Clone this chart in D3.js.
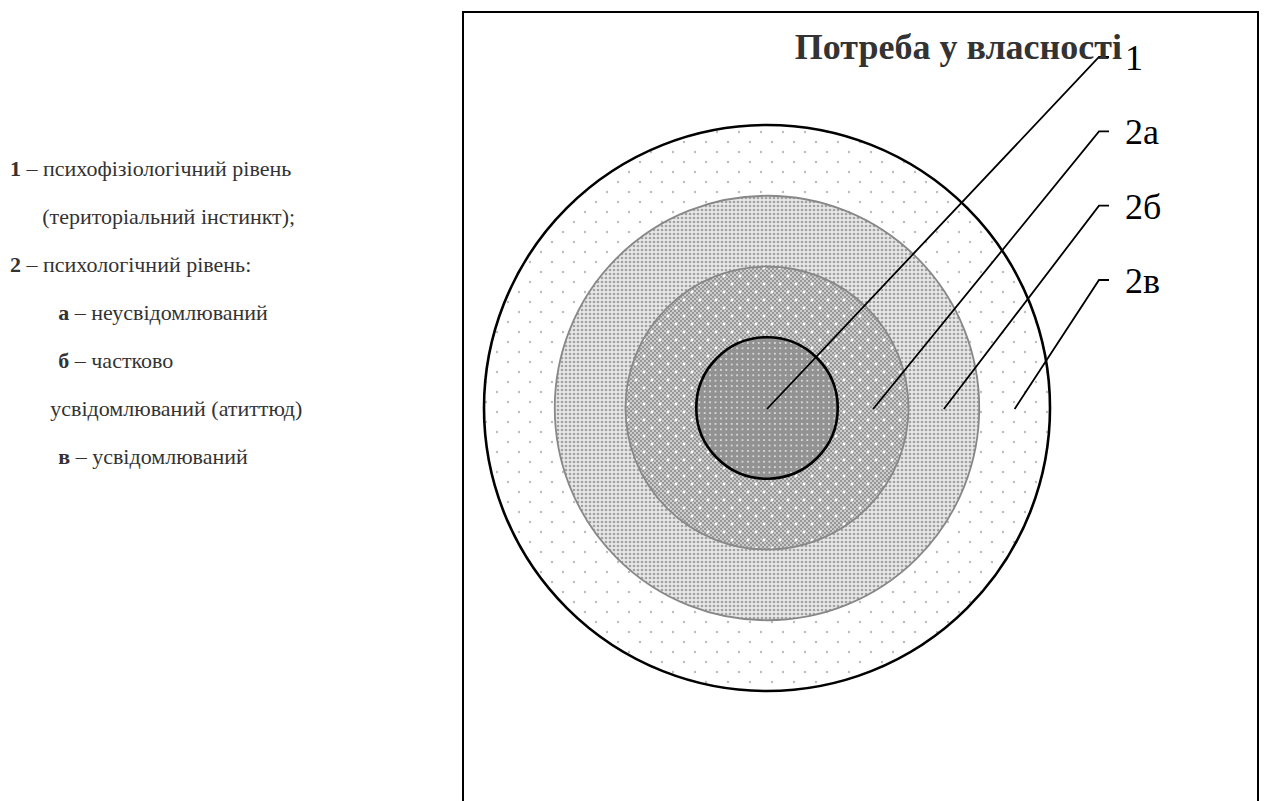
<!DOCTYPE html>
<html>
<head>
<meta charset="utf-8">
<title>Потреба у власності</title>
<script src="https://cdn.jsdelivr.net/npm/d3@7"></script>
<style>
body { margin: 0; background: #fff; }
text { font-family: "Liberation Serif", "Times New Roman", serif; }
</style>
</head>
<body>
<script type="text/javascript">

// levels from centre outwards
var levels = ["1", "2а", "2б", "2в"];
var outerRadius = [1, 2, 3, 4];      // ring outer edge, in level units
var leaderAt = [0, 1.5, 2.5, 3.5];   // where each leader line starts, in level units
var title = "Потреба у власності";

// legend rows: bold key, rest of text, indent step
var legendKey = ["1", "", "2", "а", "б", "", "в"];
var legendText = [" – психофізіологічний рівень", "(територіальний інстинкт);",
  " – психологічний рівень:", " – неусвідомлюваний", " – частково",
  "усвідомлюваний (атиттюд)", " – усвідомлюваний"];
var legendIndent = [0, 1.4, 0, 2.1, 2.1, 1.75, 2.1];

var width = 1264, height = 801;
var cx = 767, cy = 408;

var svg = d3.select("body").append("svg")
  .attr("width", width)
  .attr("height", height);

var r = d3.scaleLinear().domain([0, 4]).range([0, 283]);

// patterns
var defs = svg.append("defs");

var p4 = defs.append("pattern").attr("id", "sparse")
  .attr("patternUnits", "userSpaceOnUse").attr("width", 22).attr("height", 20);
p4.append("rect").attr("width", 22).attr("height", 20).attr("fill", "#fff");
p4.append("circle").attr("cx", 2).attr("cy", 2).attr("r", 1.2).attr("fill", "#bdbdbd");
p4.append("circle").attr("cx", 13).attr("cy", 12).attr("r", 1.2).attr("fill", "#bdbdbd");

var p3 = defs.append("pattern").attr("id", "dense")
  .attr("patternUnits", "userSpaceOnUse").attr("width", 4).attr("height", 4);
p3.append("rect").attr("width", 4).attr("height", 4).attr("fill", "#e8e8e8");
p3.append("circle").attr("cx", 2).attr("cy", 2).attr("r", 1.35).attr("fill", "#a2a2a2");

var p2 = defs.append("pattern").attr("id", "checker")
  .attr("patternUnits", "userSpaceOnUse").attr("width", 4).attr("height", 4);
p2.append("rect").attr("width", 4).attr("height", 4).attr("fill", "#cccccc");
p2.append("rect").attr("width", 2).attr("height", 2).attr("fill", "#989898");
p2.append("rect").attr("x", 2).attr("y", 2).attr("width", 2).attr("height", 2).attr("fill", "#989898");

var p2b = defs.append("pattern").attr("id", "whitedots")
  .attr("patternUnits", "userSpaceOnUse").attr("width", 16).attr("height", 16);
p2b.append("circle").attr("cx", 4).attr("cy", 4).attr("r", 1.4).attr("fill", "#fff");
p2b.append("circle").attr("cx", 12).attr("cy", 12).attr("r", 1.4).attr("fill", "#fff");

var p1 = defs.append("pattern").attr("id", "core")
  .attr("patternUnits", "userSpaceOnUse").attr("width", 5.4).attr("height", 5.4);
p1.append("rect").attr("width", 5.4).attr("height", 5.4).attr("fill", "#929292");
p1.append("circle").attr("cx", 2.7).attr("cy", 2.7).attr("r", 1).attr("fill", "#e8e8e8");

var fills = ["url(#core)", "url(#checker)", "url(#dense)", "url(#sparse)"];
var strokes = ["#000", "#888", "#888", "#000"];
var strokeW = [2.6, 1.8, 1.8, 2.6];

// frame
svg.append("rect")
  .attr("x", 463).attr("y", 12)
  .attr("width", 795).attr("height", 820)
  .attr("fill", "none").attr("stroke", "#000").attr("stroke-width", 2);

// rings, drawn outermost first
var order = d3.range(levels.length).reverse();
var gRing = svg.append("g");
order.forEach(function(i) {
  gRing.append("circle")
    .attr("cx", cx).attr("cy", cy)
    .attr("r", r(outerRadius[i]))
    .attr("fill", fills[i])
    .attr("stroke", strokes[i])
    .attr("stroke-width", strokeW[i]);
  if (i == 1) {
    gRing.append("circle")
      .attr("cx", cx).attr("cy", cy)
      .attr("r", r(outerRadius[i]) - 1)
      .attr("fill", "url(#whitedots)");
  }
});

// leader lines and labels
var labelY = d3.scalePoint().domain(levels).range([70, 293]);
var tickX0 = 1099, tickX1 = 1109, labelX = 1125;

var gLine = svg.append("g");
levels.forEach(function(d, i) {
  var ty = labelY(d) - 13;
  gLine.append("path")
    .attr("d", "M" + (cx + r(leaderAt[i])) + "," + (cy + 1) +
      "L" + tickX0 + "," + ty + "L" + tickX1 + "," + ty)
    .attr("fill", "none")
    .attr("stroke", "#000")
    .attr("stroke-width", 1.8);
  gLine.append("text")
    .attr("x", labelX).attr("y", labelY(d))
    .attr("font-size", 36)
    .attr("fill", "#000")
    .text(d);
});

svg.append("text")
  .attr("x", 1122).attr("y", 59)
  .attr("text-anchor", "end")
  .attr("font-size", 36)
  .attr("font-weight", "bold")
  .attr("fill", "#333")
  .text(title);

// legend
var gLeg = svg.append("g");
legendText.forEach(function(t, i) {
  var tx = gLeg.append("text")
    .attr("x", 10 + legendIndent[i] * 23)
    .attr("y", 176 + i * 48)
    .attr("font-size", 22)
    .attr("fill", "#333");
  if (legendKey[i]) tx.append("tspan").attr("font-weight", "bold").text(legendKey[i]);
  tx.append("tspan").text(t);
});

</script>
</body>
</html>
